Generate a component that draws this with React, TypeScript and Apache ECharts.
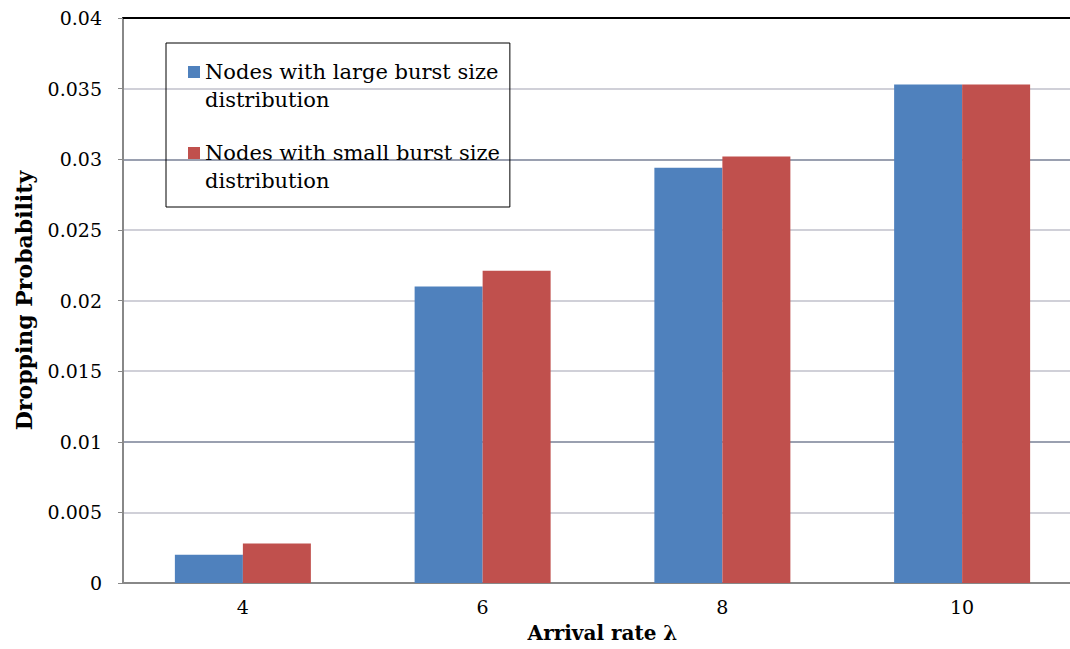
import React, { useEffect, useRef } from "react";
import * as echarts from "echarts";

const categories = ["4", "6", "8", "10"];
const largeBurst = [0.002, 0.021, 0.0294, 0.0353];
const smallBurst = [0.0028, 0.0221, 0.0302, 0.0353];
const seriesNames = [
  "Nodes with large burst size distribution",
  "Nodes with small burst size distribution",
];
const yTicks = { min: 0, max: 0.04, interval: 0.005 };

const FONT = "DejaVu Serif";
const legendIcon =
  "path://M0,0h0.01v0.01h-0.01z M0,8h12v12h-12z M0,56h0.01v0.01h-0.01z";

export default function App() {
  const ref = useRef<HTMLDivElement>(null);
  useEffect(() => {
    if (!ref.current) return;
    const chart = echarts.init(ref.current, null, { renderer: "svg" });
    const gl = "#D0D0D8";
    const gd = "#9AA0B0";
    chart.setOption({
      animation: false,
      backgroundColor: "#ffffff",
      textStyle: { fontFamily: FONT },
      grid: { left: 123, right: 0, top: 18, bottom: 66, containLabel: false },
      legend: {
        orient: "vertical",
        left: 166,
        top: 43,
        padding: [15, 10, 12, 22],
        itemGap: 25,
        itemWidth: 12,
        itemHeight: 56,
        icon: legendIcon,
        borderColor: "#000",
        borderWidth: 1,
        data: seriesNames,
        formatter: (n: string) => n.replace(" size ", " size\n"),
        textStyle: { fontFamily: FONT, fontSize: 21, lineHeight: 28, color: "#000" },
      },
      xAxis: [
        {
          type: "category",
          data: categories,
          position: "bottom",
          axisLine: { lineStyle: { color: "#888", width: 2 } },
          axisTick: { show: false },
          axisLabel: { fontFamily: FONT, fontSize: 19, color: "#000", margin: 14 },
          name: "Arrival rate λ",
          nameLocation: "middle",
          nameGap: 40,
          nameTextStyle: { fontFamily: FONT, fontSize: 20, fontWeight: "bold", color: "#000" },
        },
        {
          type: "category",
          data: categories,
          position: "top",
          axisLine: { show: true, lineStyle: { color: "#000", width: 2 } },
          axisTick: { show: false },
          axisLabel: { show: false },
        },
      ],
      yAxis: {
        type: "value",
        min: yTicks.min,
        max: yTicks.max,
        interval: yTicks.interval,
        axisLine: { show: true, lineStyle: { color: "#888", width: 2 } },
        axisTick: { show: true, length: 5, lineStyle: { color: "#888" } },
        axisLabel: { fontFamily: FONT, fontSize: 19, color: "#000", margin: 21 },
        splitLine: {
          show: true,
          lineStyle: { color: [gl, gl, gd, gl, gl, gl, gd, gl, gl], width: 2 },
        },
        name: "Dropping Probability",
        nameLocation: "middle",
        nameGap: 88,
        nameTextStyle: { fontFamily: FONT, fontSize: 22, fontWeight: "bold", color: "#000" },
      },
      series: [
        {
          name: seriesNames[0],
          type: "bar",
          data: largeBurst,
          barWidth: 68,
          barGap: "0%",
          itemStyle: { color: "#4F81BD" },
        },
        {
          name: seriesNames[1],
          type: "bar",
          data: smallBurst,
          barWidth: 68,
          barGap: "0%",
          itemStyle: { color: "#C0504D" },
        },
      ],
    });
    return () => chart.dispose();
  }, []);
  return (
    <div
      ref={ref}
      style={{ position: "fixed", left: 0, top: 0, width: 1082, height: 649 }}
    />
  );
}
